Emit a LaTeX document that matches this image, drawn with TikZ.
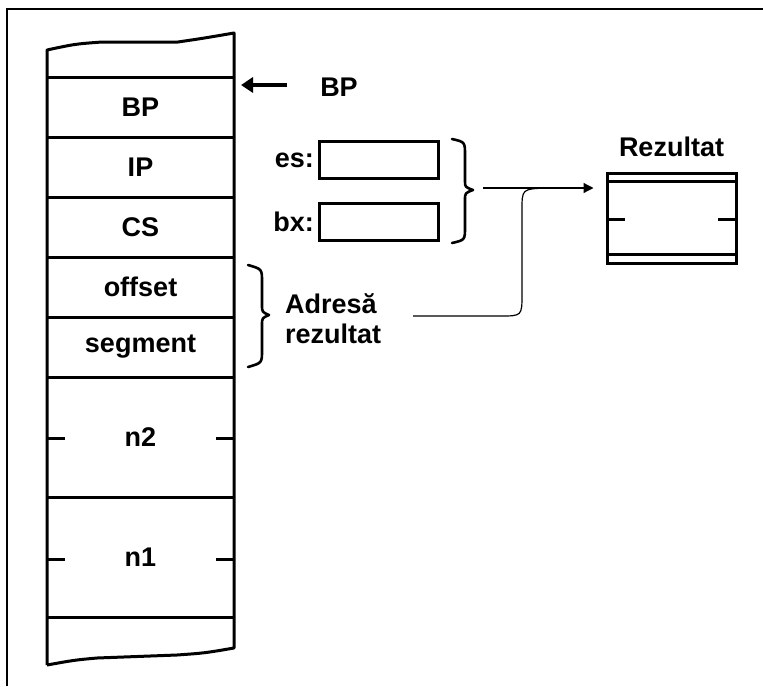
\documentclass[tikz,border=0pt]{standalone}
\usepackage{fontspec}
\setmainfont{Liberation Sans}
\usetikzlibrary{arrows.meta}
\tikzset{
  lbl/.style={font=\fontsize{27}{31}\selectfont\bfseries, inner sep=0pt},
  thick3/.style={line width=3pt},
  regbox/.style={draw, line width=3pt, minimum width=119pt, minimum height=37pt, inner sep=0pt},
  brc/.style={line width=2.6pt, line cap=round, line join=round},
  thinarrow/.style={line width=1.2pt, -{Triangle[length=10pt,width=10pt]}},
  bparrow/.style={line width=3.5pt, -{Triangle[length=12pt,width=15pt]}},
}
\begin{document}
\begin{tikzpicture}[x=1pt,y=-1pt]
\useasboundingbox (0,0) rectangle (763,686);
% frame
\draw[line width=1.3pt] (7,686) -- (7,9) -- (763,9);
% stack outline
\draw[thick3, line join=round] (47,665) -- (47,50) .. controls (75,44) .. (102,42) -- (178,42) .. controls (205,38) .. (234,33) -- (234,648) .. controls (205,653) .. (177,655) -- (97,658) .. controls (75,660) .. (47,665);
\foreach \yy in {77,137,197,257,317,377,497,617}
  \draw[thick3] (47,\yy) -- (234,\yy);
% ticks in n2, n1
\foreach \yy in {438,559} {
  \draw[thick3] (47,\yy) -- (65,\yy);
  \draw[thick3] (216,\yy) -- (234,\yy);
}
% cell labels
\node[lbl] (cbp) at (140.5,107) {BP};
\node[lbl] (cip) at (140.5,167) {IP};
\node[lbl] (ccs) at (140.5,227) {CS};
\node[lbl] (coff) at (140.5,287) {offset};
\node[lbl] (cseg) at (140.5,347) {segment};
\node[lbl] (cn2) at (140.5,437) {n2};
\node[lbl] (cn1) at (140.5,557) {n1};
% BP pointer
\node[lbl] (bplabel) at (339,87) {BP};
\coordinate (bpstart) at (287,85);
\coordinate (bptip) at (241,85);
\draw[bparrow] (bpstart) -- (bptip);
% es / bx registers
\node[regbox] (esbox) at (378.5,160) {};
\node[regbox] (bxbox) at (378.5,221.5) {};
\node[lbl, anchor=east] (eslbl) at (314,160) {es:};
\node[lbl, anchor=east] (bxlbl) at (314,222) {bx:};
% brace for registers
\draw[brc] (452,139) .. controls (465,142) .. (465,155) -- (465,181) .. controls (465,187) .. (473,190) .. controls (465,193) .. (465,200) -- (465,227) .. controls (465,240) .. (452,243);
% Rezultat box
\node[draw, line width=3pt, minimum width=129pt, minimum height=90pt, inner sep=0pt] (rez) at (671.5,218) {};
\draw[line width=3pt] (607,181.5) -- (736,181.5);
\draw[line width=3pt] (607,254) -- (736,254);
\draw[thick3] (607,219) -- (625,219);
\draw[thick3] (718,219) -- (736,219);
\node[lbl] (rezlbl) at (671.5,147) {Rezultat};
% arrow from brace to result
\coordinate (bracetip) at (483,188);
\draw[thinarrow, shorten >=12pt] (bracetip) -- (rez.west |- bracetip);
% brace for address
\draw[brc] (248,265) .. controls (262,269) .. (262,282) -- (262,305) .. controls (262,312) .. (269,315) .. controls (262,318) .. (262,325) -- (262,350) .. controls (262,363) .. (248,367);
\node[lbl, align=left, anchor=west] (adr) at (285,318.5) {Adresă\\[-1pt]rezultat};
% connector from address to arrow
\coordinate (adrend) at (413,316);
\coordinate (joinpt) at (546,188);
\draw[line width=1.2pt] (adrend) -- (500,316) .. controls (522,316) .. (522,294) -- (522,210) .. controls (522,189) .. (joinpt);
\end{tikzpicture}
\end{document}
